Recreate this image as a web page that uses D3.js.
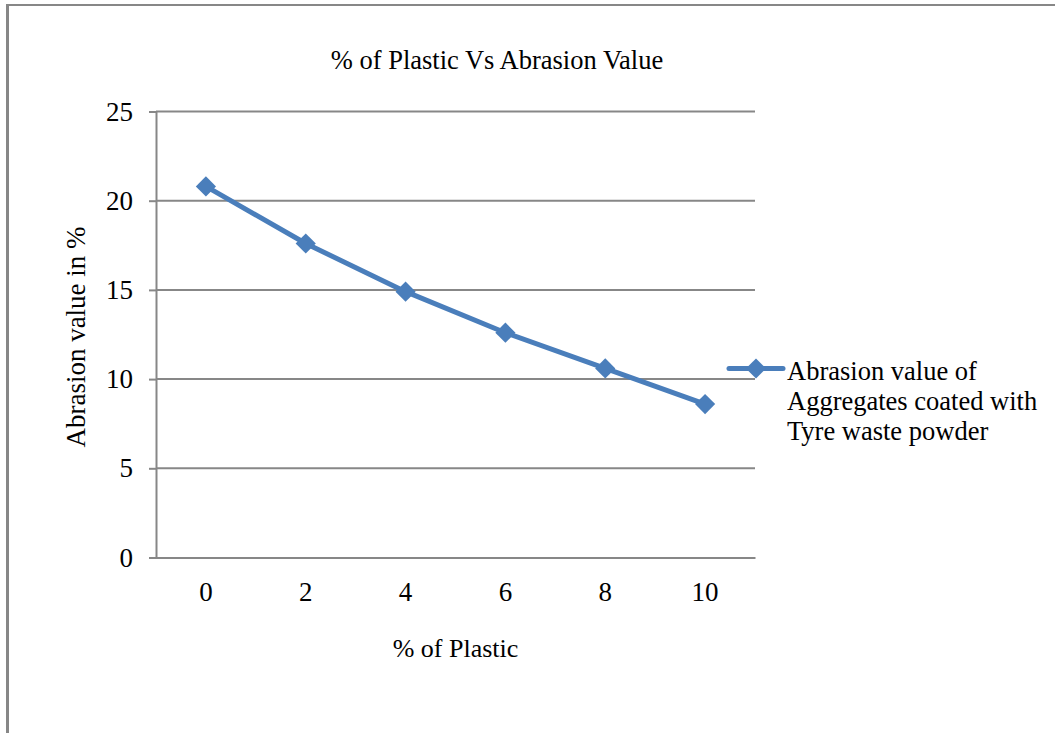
<!DOCTYPE html>
<html>
<head>
<meta charset="utf-8">
<script src="https://cdn.jsdelivr.net/npm/d3@7"></script>
<style>
  html, body { margin: 0; padding: 0; background: #ffffff; }
  svg { display: block; }
  text { font-family: "Liberation Serif", "Times New Roman", serif; fill: #000; }
</style>
</head>
<body>
<svg id="chart" width="1055" height="733"></svg>
<script>
// Abrasion test results for aggregates coated with tyre waste powder
const plasticPct = ["0", "2", "4", "6", "8", "10"];
const abrasionValue = [20.8, 17.6, 14.9, 12.6, 10.6, 8.6];
const yTicks = [0, 5, 10, 15, 20, 25];
const seriesName = ["Abrasion value of", "Aggregates coated with", "Tyre waste powder"];
const chartTitle = "% of Plastic Vs Abrasion Value";
const xTitle = "% of Plastic";
const yTitle = "Abrasion value in %";

const svg = d3.select("#chart");
const plot = { left: 156, right: 755, top: 111.5, bottom: 557.5 };
const blue = "#4a7ebb";
const grey = "#878787";
const fontSize = 27;

// outer frame (top and left edges)
svg.append("line").attr("x1", 7.5).attr("x2", 1055).attr("y1", 5).attr("y2", 5)
  .attr("stroke", grey).attr("stroke-width", 2);
svg.append("line").attr("x1", 7.5).attr("x2", 7.5).attr("y1", 4).attr("y2", 733)
  .attr("stroke", grey).attr("stroke-width", 3);

const x = d3.scaleBand().domain(plasticPct).range([plot.left, plot.right]);
const y = d3.scaleLinear().domain([0, 25]).range([plot.bottom, plot.top]);

// horizontal gridlines
svg.append("g").selectAll("line").data(yTicks.filter(t => t > 0)).join("line")
  .attr("x1", plot.left).attr("x2", plot.right)
  .attr("y1", d => y(d)).attr("y2", d => y(d))
  .attr("stroke", grey).attr("stroke-width", 2);

// y axis
const yAxis = svg.append("g").attr("transform", `translate(${plot.left},0)`)
  .call(d3.axisLeft(y).tickValues(yTicks).tickSize(7).tickPadding(16).tickFormat(d3.format("d")));
yAxis.select(".domain").attr("stroke", grey).attr("stroke-width", 2);
yAxis.selectAll(".tick line").attr("stroke", grey).attr("stroke-width", 2);
yAxis.selectAll(".tick text").style("font-family", "Liberation Serif").style("font-size", fontSize + "px").attr("fill", "#000");

// x axis
const xAxis = svg.append("g").attr("transform", `translate(0,${plot.bottom})`)
  .call(d3.axisBottom(x).tickSize(0).tickPadding(24).tickSizeOuter(0));
xAxis.select(".domain").attr("stroke", grey).attr("stroke-width", 2);
xAxis.selectAll(".tick text").style("font-family", "Liberation Serif").style("font-size", fontSize + "px").attr("fill", "#000");

// series line and diamond markers
const cx = (d, i) => x(plasticPct[i]) + x.bandwidth() / 2;
const line = d3.line().x((d, i) => cx(d, i)).y(d => y(d));
svg.append("path").datum(abrasionValue).attr("d", line)
  .attr("fill", "none").attr("stroke", blue).attr("stroke-width", 5).attr("stroke-linejoin", "round");

const diamond = d3.symbol().type(d3.symbolDiamond2).size(260);
svg.append("g").selectAll("path").data(abrasionValue).join("path")
  .attr("d", diamond)
  .attr("transform", (d, i) => `translate(${cx(d, i)},${y(d)})`)
  .attr("fill", blue);

// legend
const lg = svg.append("g").attr("transform", "translate(729,368.5)");
lg.append("line").attr("x1", 0).attr("x2", 54).attr("y1", 0).attr("y2", 0)
  .attr("stroke", blue).attr("stroke-width", 5).attr("stroke-linecap", "round");
lg.append("path").attr("d", diamond).attr("transform", "translate(27,0)").attr("fill", blue);
lg.append("text").attr("x", 58).attr("y", 11).style("font-size", "26.5px")
  .selectAll("tspan").data(seriesName).join("tspan")
  .attr("x", 58).attr("dy", (d, i) => i === 0 ? 0 : 30).text(d => d);

// titles
svg.append("text").attr("x", 497).attr("y", 69).attr("text-anchor", "middle")
  .style("font-size", "26.5px").text(chartTitle);
svg.append("text").attr("x", 455.5).attr("y", 657).attr("text-anchor", "middle")
  .style("font-size", "26px").text(xTitle);
svg.append("text").attr("transform", "translate(85,337) rotate(-90)").attr("text-anchor", "middle")
  .style("font-size", fontSize + "px").text(yTitle);
</script>
</body>
</html>
